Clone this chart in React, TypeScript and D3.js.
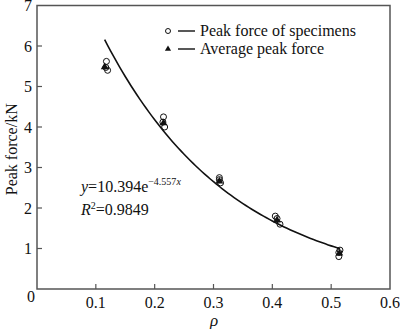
import React from "react";
import * as d3 from "d3";

const specimenRho = [0.118, 0.117, 0.12, 0.215, 0.214, 0.217, 0.31, 0.31, 0.312, 0.405, 0.408, 0.413, 0.515, 0.513, 0.513];
const specimenForce = [5.62, 5.47, 5.4, 4.25, 4.12, 4.0, 2.75, 2.7, 2.62, 1.8, 1.74, 1.6, 0.96, 0.9, 0.8];
const avgRho = [0.115, 0.215, 0.31, 0.408, 0.514];
const avgForce = [5.48, 4.1, 2.66, 1.7, 0.88];
const fitA = 10.394;
const fitB = -4.557;
const fitRange = [0.115, 0.515];
const xTicks = [0.1, 0.2, 0.3, 0.4, 0.5, 0.6];
const yTicks = [1, 2, 3, 4, 5, 6, 7];

const W = 400, H = 329;
const left = 37, right = 390, top = 5.5, bottom = 289;
const font = "'Times New Roman', Times, 'Liberation Serif', Tinos, serif";

export default function App() {
  const x = d3.scaleLinear().domain([0, 0.6]).range([left, right]);
  const y = d3.scaleLinear().domain([0, 7]).range([bottom, top]);
  const fitX = d3.range(fitRange[0], fitRange[1] + 1e-9, 0.005);
  const line = d3.line<number>().x((d) => x(d)).y((d) => y(fitA * Math.exp(fitB * d)));
  const tri = d3.symbol().type(d3.symbolTriangle).size(26)();
  const axisColor = "#555";
  const ts = { fontFamily: font };
  return (
    <svg width={W} height={H} style={{ position: "absolute", left: 0, top: 0, background: "#fff", fontFamily: font }}>
      <rect x={left} y={top} width={right - left} height={bottom - top} fill="none" stroke={axisColor} strokeWidth={1.5} />
      {xTicks.map((t) => (
        <g key={"x" + t}>
          {t < 0.6 && <line x1={x(t)} x2={x(t)} y1={bottom} y2={bottom - 5} stroke={axisColor} strokeWidth={1.2} />}
          <text x={x(t)} y={308} fontSize={16} textAnchor="middle" fill="#111" style={ts}>{t.toFixed(1)}</text>
        </g>
      ))}
      {yTicks.map((t) => (
        <g key={"y" + t}>
          {t < 7 && <line x1={left} x2={left + 5} y1={y(t)} y2={y(t)} stroke={axisColor} strokeWidth={1.2} />}
          <text x={32} y={y(t) + 5.5} fontSize={16} textAnchor="end" fill="#111" style={ts}>{t}</text>
        </g>
      ))}
      <text x={31} y={302} fontSize={16} textAnchor="middle" fill="#111" style={ts}>0</text>
      <text x={214} y={326} fontSize={17} textAnchor="middle" fontStyle="italic" fill="#111" style={ts}>ρ</text>
      <text transform={`translate(17,${(top + bottom) / 2 + 2}) rotate(-90)`} fontSize={16} textAnchor="middle" fill="#111" style={ts}>Peak force/kN</text>
      <path d={line(fitX) || ""} fill="none" stroke="#111" strokeWidth={1.6} />
      {specimenRho.map((r, i) => (
        <circle key={"c" + i} cx={x(r)} cy={y(specimenForce[i])} r={3} fill="none" stroke="#111" strokeWidth={1} />
      ))}
      {avgRho.map((r, i) => (
        <path key={"t" + i} d={tri || ""} transform={`translate(${x(r)},${y(avgForce[i])})`} fill="#111" />
      ))}
      <circle cx={168} cy={31} r={2.5} fill="none" stroke="#111" strokeWidth={1} />
      <line x1={178} x2={195} y1={31} y2={31} stroke="#111" strokeWidth={1.4} />
      <text x={200} y={36} fontSize={16} fill="#111" style={ts}>Peak force of specimens</text>
      <path d={tri || ""} transform="translate(168,49) scale(0.8)" fill="#111" />
      <line x1={178} x2={195} y1={49} y2={49} stroke="#111" strokeWidth={1.4} />
      <text x={200} y={54} fontSize={16} fill="#111" style={ts}>Average peak force</text>
      <text x={81} y={192} fontSize={16} fill="#111" style={ts}>
        <tspan fontStyle="italic">y</tspan>=10.394e
        <tspan fontSize={10} dy={-7}>−4.557</tspan>
        <tspan fontSize={10} fontStyle="italic">x</tspan>
      </text>
      <text x={81} y={215} fontSize={16} fill="#111" style={ts}>
        <tspan fontStyle="italic">R</tspan>
        <tspan fontSize={10} dy={-6}>2</tspan>
        <tspan dy={6}>=0.9849</tspan>
      </text>
    </svg>
  );
}
